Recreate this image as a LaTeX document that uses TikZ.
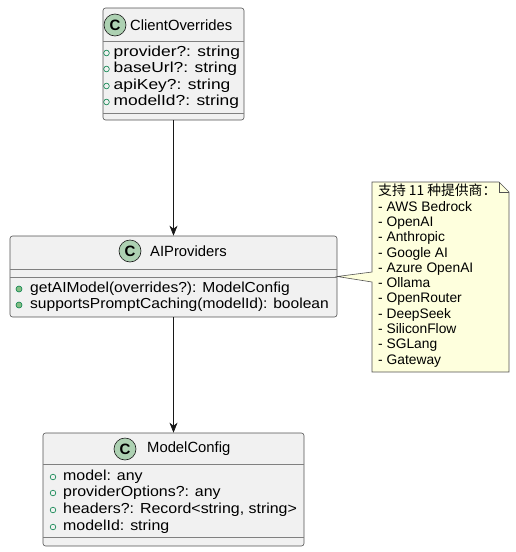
\documentclass[tikz,border=0pt]{standalone}
\usepackage{fontspec}
\setmainfont{Liberation Sans}
\newfontfamily\cjk{Noto Sans CJK SC}
\newfontfamily\memberfont[FakeStretch=1.1]{Liberation Sans}
\newfontfamily\narrowmemberfont[FakeStretch=1.075]{Liberation Sans}
\newfontfamily\widememberfont[FakeStretch=1.2]{Liberation Sans}
\usetikzlibrary{arrows.meta}
\definecolor{umlline}{HTML}{181818}
\definecolor{umlfill}{HTML}{F1F1F1}
\definecolor{spotfill}{HTML}{ADD1B2}
\definecolor{notefill}{HTML}{FEFFDD}
\definecolor{fieldgreen}{HTML}{038048}
\definecolor{methodfill}{HTML}{84BE84}

\begin{document}
\begin{tikzpicture}
  [x=1pt,y=-1pt,
   every node/.style={inner sep=0pt,font=\fontsize{15}{18}\selectfont},
   classbox/.style={draw=umlline!75,fill=umlfill,rounded corners=2.5pt,line width=0.6pt},
   sepline/.style={draw=umlline!55,line width=0.6pt},
   spot/.style={circle,draw=umlline,fill=spotfill,line width=0.6pt,minimum size=22pt,font=\fontsize{15}{15}\selectfont\bfseries},
   classname/.style={anchor=west,font=\fontsize{14.8}{18}\selectfont},
   field/.style={circle,draw=fieldgreen,line width=0.6pt,minimum size=5.6pt},
   method/.style={circle,draw=fieldgreen,fill=methodfill,line width=0.6pt,minimum size=6pt},
   member/.style={anchor=west,font=\memberfont\fontsize{14.5}{17}\selectfont},
   notestyle/.style={draw=umlline!75,fill=notefill,line width=0.6pt},
   arr/.style={-{Stealth[length=10pt,width=8pt,inset=3pt]},umlline,line width=0.7pt}]
  \useasboundingbox (0,0) rectangle (516,552);

  % ClientOverrides
  \node[classbox,minimum width=141pt,minimum height=112pt] (client) at (173.5,64) {};
  \node[spot] (clientspot) at (115,25) {C};
  \node[classname] (clientname) at (130,25) {ClientOverrides};
  \draw[sepline] (103,41) -- (244,41);
  \draw[sepline] (103,113) -- (244,113);
  \foreach \y/\txt in {53/provider?: string,69/baseUrl?: string,86/apiKey?: string,102/modelId?: string} {
    \node[field] (clientmark\y) at (106.5,\y) {};
    \node[member,font=\widememberfont\fontsize{14.5}{17}\selectfont] (clientattr\y) at (113.5,\y) {\txt};
  }

  % AIProviders
  \node[classbox,minimum width=327pt,minimum height=81pt] (providers) at (173.5,276.5) {};
  \node[spot] (providersspot) at (130,251) {C};
  \node[classname] (providersname) at (150,251) {AIProviders};
  \draw[sepline] (10,269) -- (337,269);
  \draw[sepline] (10,277) -- (337,277);
  \foreach \y/\txt in {289/getAIModel(overrides?): ModelConfig,305/supportsPromptCaching(modelId): boolean} {
    \node[method] (providersmark\y) at (19,\y) {};
    \node[member,font=\narrowmemberfont\fontsize{14.5}{17}\selectfont] (providersop\y) at (30,\y) {\txt};
  }

  % ModelConfig
  \node[classbox,minimum width=261pt,minimum height=113pt] (model) at (173.5,489.5) {};
  \node[spot] (modelspot) at (125,449) {C};
  \node[classname] (modelname) at (147,449) {ModelConfig};
  \draw[sepline] (43,464) -- (304,464);
  \draw[sepline] (43,537) -- (304,537);
  \foreach \y/\txt in {477/model: any,493/providerOptions?: any,510/{headers?: Record<string, string>},527/modelId: string} {
    \node[field] (modelmark\y) at (53,\y) {};
    \node[member] (modelattr\y) at (63,\y) {\txt};
  }

  \draw[arr] (client) -- (providers);
  \draw[arr] (providers) -- (model);

  % note
  \draw[notestyle] (372,182) -- (499,182) -- (509,192) -- (509,372) -- (372,372)
    -- (372,282) -- (providers.east) -- (372,272) -- cycle;
  \draw[notestyle,fill=none] (499,182) -- (499,192) -- (509,192);
  \node[anchor=north west,align=left,font=\fontsize{13.8}{15.3}\selectfont] (note) at (378,184)
    {{\cjk 支持 11 种提供商：}\\- AWS Bedrock\\- OpenAI\\- Anthropic\\- Google AI\\- Azure OpenAI\\- Ollama\\- OpenRouter\\- DeepSeek\\- SiliconFlow\\- SGLang\\- Gateway};
\end{tikzpicture}
\end{document}
